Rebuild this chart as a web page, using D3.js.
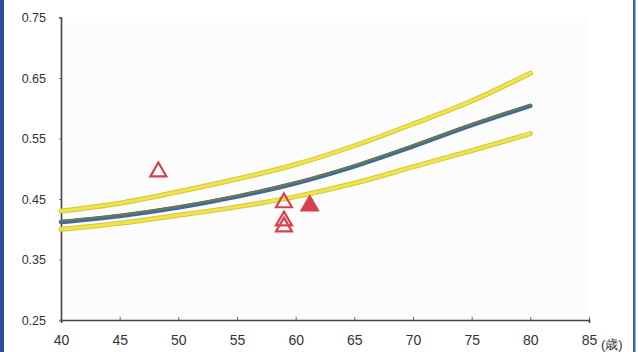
<!DOCTYPE html>
<html>
<head>
<meta charset="utf-8">
<script src="https://cdn.jsdelivr.net/npm/d3@7"></script>
<style>
  html, body { margin: 0; padding: 0; background: #fff; }
  svg { display: block; }
  text { font-family: "Liberation Sans", Arial, sans-serif; fill: #333; }
</style>
</head>
<body>
<svg id="chart" width="639" height="352"></svg>
<script>
// ---- data ----
const ages = [40, 45, 50, 55, 60, 65, 70, 75, 80];
const upperValues  = [0.430, 0.443, 0.462, 0.483, 0.507, 0.538, 0.574, 0.612, 0.658];
const middleValues = [0.412, 0.422, 0.436, 0.454, 0.476, 0.504, 0.537, 0.572, 0.604];
const lowerValues  = [0.400, 0.410, 0.423, 0.437, 0.454, 0.476, 0.503, 0.530, 0.558];

const openAges   = [48.3, 59.0, 59.0, 59.0];
const openValues = [0.495, 0.444, 0.414, 0.404];
const filledAges   = [61.2];
const filledValues = [0.439];

const xTicks = [40, 45, 50, 55, 60, 65, 70, 75, 80, 85];
const yTicks = [0.25, 0.35, 0.45, 0.55, 0.65, 0.75];
const yTickLabels = ["0.25", "0.35", "0.45", "0.55", "0.65", "0.75"];
const unitLabel = "(歳)";

// ---- chart ----
const svg = d3.select("#chart");
const x = d3.scaleLinear().domain([40, 85]).range([61, 589]);
const y = d3.scaleLinear().domain([0.25, 0.75]).range([320, 17.5]);

// scan border decoration
svg.append("rect").attr("x", 0).attr("y", 0).attr("width", 4).attr("height", 352).attr("fill", "#2b4f9e");
svg.append("rect").attr("x", 633).attr("y", 0).attr("width", 2.5).attr("height", 352).attr("fill", "#3a62b0");

// faint plot area
svg.append("rect").attr("x", x(40)).attr("y", y(0.75)).attr("width", x(85) - x(40)).attr("height", y(0.25) - y(0.75)).attr("fill", "#fcfcfc");

// axes
const xAxis = d3.axisBottom(x).tickValues(xTicks).tickSize(3).tickFormat(d3.format("d"));
const yAxis = d3.axisLeft(y).tickValues(yTicks).tickSize(2).tickFormat((d, i) => yTickLabels[i]);

const gx = svg.append("g").attr("transform", `translate(0,${y(0.25)})`).call(xAxis);
gx.select(".domain").attr("stroke", "#444").attr("stroke-width", 1.6);
gx.selectAll(".tick line").attr("stroke", "#666").attr("y2", -3);
gx.selectAll(".tick text").attr("font-size", 14).attr("dy", 0).attr("y", 25).attr("fill", "#333")
  .style("font-family", "'Liberation Sans', Arial, sans-serif");

const gy = svg.append("g").attr("transform", `translate(${x(40)},0)`).call(yAxis);
gy.select(".domain").attr("stroke", "#444").attr("stroke-width", 1.6);
gy.selectAll(".tick line").attr("stroke", "#777");
gy.selectAll(".tick text").attr("font-size", 12.5).attr("x", -15).attr("fill", "#333")
  .style("font-family", "'Liberation Sans', Arial, sans-serif");

svg.append("text").attr("x", 601).attr("y", 349).attr("font-size", 13).attr("fill", "#333").text(unitLabel);

// lines
const line = d3.line().x(d => x(d[0])).y(d => y(d[1])).curve(d3.curveMonotoneX);
const zip = vals => ages.map((a, i) => [a, vals[i]]);

function yellow(vals) {
  svg.append("path").datum(zip(vals)).attr("d", line).attr("fill", "none")
    .attr("stroke", "#d6c63a").attr("stroke-width", 5).attr("stroke-linecap", "round");
  svg.append("path").datum(zip(vals)).attr("d", line).attr("fill", "none")
    .attr("stroke", "#eee44c").attr("stroke-width", 3).attr("stroke-linecap", "round");
}
yellow(upperValues);
yellow(lowerValues);

svg.append("path").datum(zip(middleValues)).attr("d", line).attr("fill", "none")
  .attr("stroke", "#3d69a6").attr("stroke-width", 4.5).attr("stroke-linecap", "round");
svg.append("path").datum(zip(middleValues)).attr("d", line).attr("fill", "none")
  .attr("transform", "translate(0,-1)")
  .attr("stroke", "#6f7a40").attr("stroke-width", 2).attr("stroke-linecap", "round");

// triangles
const tri = d3.symbol().type(d3.symbolTriangle).size(110);
svg.selectAll(".open").data(openAges.map((a, i) => [a, openValues[i]])).enter()
  .append("path").attr("class", "open").attr("d", tri)
  .attr("transform", d => `translate(${x(d[0])},${y(d[1])})`)
  .attr("fill", "none").attr("stroke", "#d8404c").attr("stroke-width", 2.2);
svg.selectAll(".filled").data(filledAges.map((a, i) => [a, filledValues[i]])).enter()
  .append("path").attr("class", "filled").attr("d", d3.symbol().type(d3.symbolTriangle).size(150))
  .attr("transform", d => `translate(${x(d[0])},${y(d[1])})`)
  .attr("fill", "#d8404c").attr("stroke", "#d8404c").attr("stroke-width", 1);
</script>
</body>
</html>
